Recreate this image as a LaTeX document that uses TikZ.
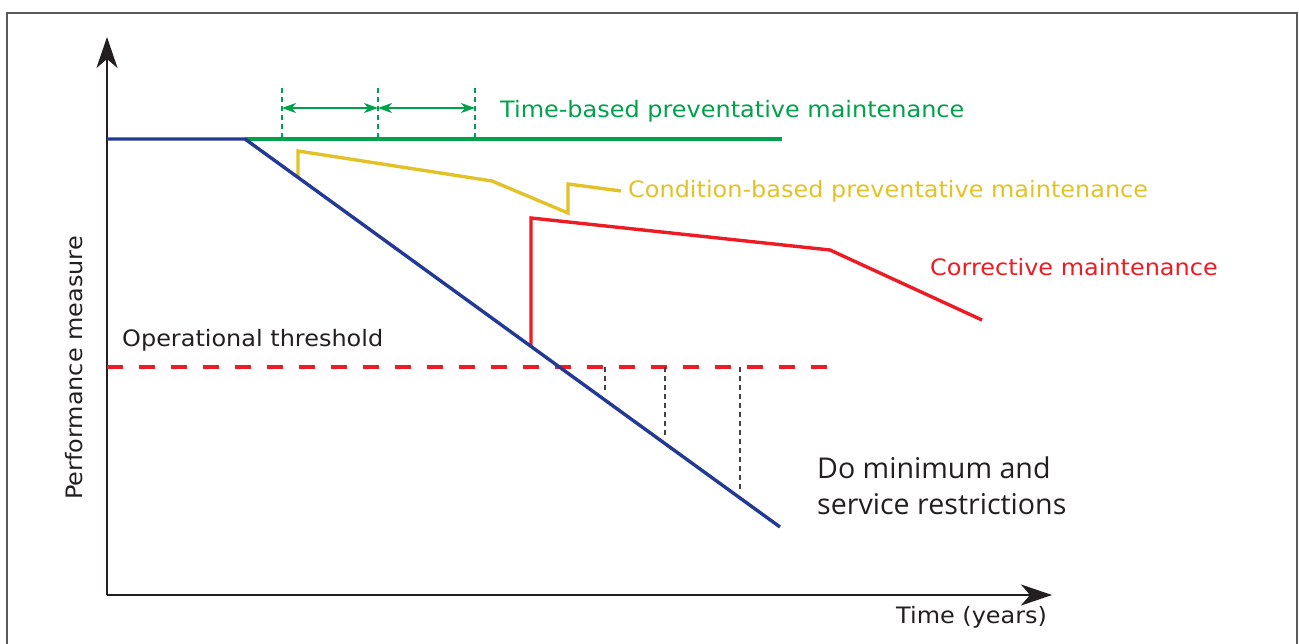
\documentclass[tikz,border=0pt]{standalone}
\usepackage{fontspec}
\setmainfont[FakeStretch=1.06]{DejaVu Sans}
\newfontfamily\notefont{Open Sans}
\usetikzlibrary{arrows.meta}

\definecolor{framegray}{RGB}{90,90,90}
\definecolor{inkdark}{RGB}{35,31,32}
\definecolor{tbgreen}{RGB}{0,161,75}
\definecolor{cbyellow}{RGB}{226,194,38}
\definecolor{cmred}{RGB}{237,28,36}
\definecolor{dmblue}{RGB}{35,57,150}

\tikzset{
  axisline/.style={line width=2.8pt, draw=inkdark, -{Stealth[length=31pt,width=21pt,inset=9pt]}},
  curve/.style={line width=3.4pt, line join=miter},
  thindash/.style={line width=1.4pt, dash pattern=on 5pt off 4pt},
  interval/.style={line width=1.4pt, draw=tbgreen, {Stealth[length=14pt,width=10pt,inset=4pt]}-{Stealth[length=14pt,width=10pt,inset=4pt]}},
  lbl/.style={font=\fontsize{22.6}{27}\selectfont, inner sep=0pt, anchor=base west},
  note/.style={font=\notefont\fontsize{28.6}{35}\selectfont, inner sep=0pt, anchor=base west, text=inkdark},
}

\begin{document}
\begin{tikzpicture}[x=1pt,y=-1pt]
\useasboundingbox (0,0) rectangle (1299,644);

% outer frame, open at the bottom
\draw[framegray, line width=2pt] (7,644) -- (7,13) -- (1297,13) -- (1297,644);

% axes
\coordinate (origin) at (107,595);
\coordinate (ytip) at (107,37);
\coordinate (xtip) at (1052,595);
\draw[axisline] (origin) -- (ytip);
\draw[axisline] (origin) -- (xtip);

% key points
\coordinate (start) at (107,139);
\coordinate (knee) at (245,139);
\coordinate (fail) at (780,527);
\coordinate (tbend) at (782,139);

% operational threshold
\draw[cmred, line width=3.6pt, dash pattern=on 16pt off 16pt] (107,367) -- (830,367);

% do-minimum interventions
\draw[inkdark!85, thindash] (605,367) -- (605,393);
\draw[inkdark!85, thindash] (665,367) -- (665,437);
\draw[inkdark!85, thindash] (740,367) -- (740,490);

% time-based intervals
\foreach \x/\n in {282/a,378/b,475/c} {
  \draw[tbgreen, thindash] (\x,88) -- (\x,137);
  \coordinate (iv\n) at (\x,108);
}
\draw[interval] (iva) -- (ivb);
\draw[interval] (ivb) -- (ivc);

% time-based maintenance level
\draw[tbgreen, curve] (knee) -- (tbend);

% condition-based maintenance
\draw[cbyellow, curve] (298,177) -- (298,151) -- (492,181) -- (568,213) -- (568,184) -- (621,191);

% corrective maintenance
\draw[cmred, curve] (531,346) -- (531,218) -- (830,250) -- (982,320);

% deterioration without maintenance
\draw[dmblue, curve] (start) -- (knee) -- (fail);

% labels
\node[lbl, text=tbgreen] (ltb) at (500,118) {Time-based preventative maintenance};
\node[lbl, text=cbyellow] (lcb) at (628,198) {Condition-based preventative maintenance};
\node[lbl, text=cmred] (lcm) at (930,276) {Corrective maintenance};
\node[lbl, text=inkdark] (lot) at (122,346.5) {Operational threshold};
\node[lbl, text=inkdark, anchor=base, rotate=90] (lpm) at (82,368) {Performance measure};
\node[lbl, text=inkdark] (ltime) at (896,623) {Time (years)};
\node[note] (ldma) at (817,478) {Do minimum and};
\node[note] (ldmb) at (817,514) {service restrictions};
\end{tikzpicture}
\end{document}
